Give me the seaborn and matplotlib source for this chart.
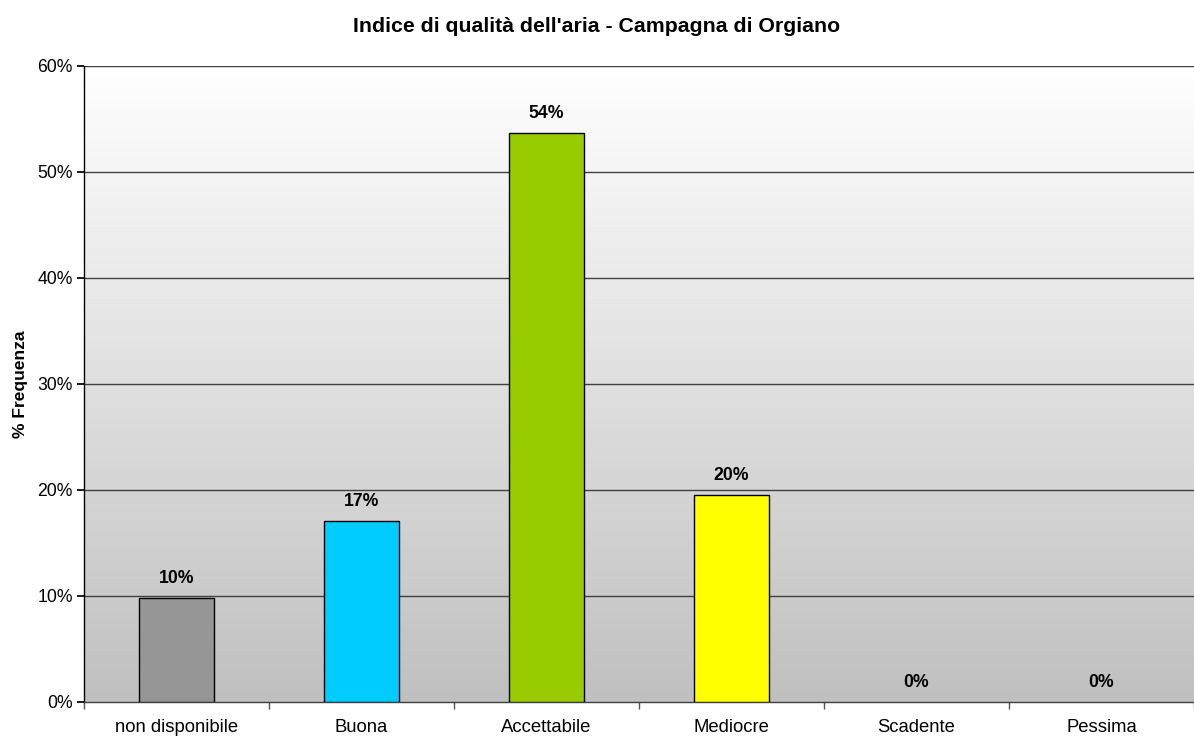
import numpy as np
import matplotlib
matplotlib.use("Agg")
import matplotlib.pyplot as plt
import seaborn as sns
from matplotlib.colors import LinearSegmentedColormap

categories = ["non disponibile", "Buona", "Accettabile", "Mediocre", "Scadente", "Pessima"]
values = [9.8, 17.1, 53.7, 19.5, 0.0, 0.0]
labels = ["10%", "17%", "54%", "20%", "0%", "0%"]
colors = ["#969696", "#00ccff", "#99cc00", "#ffff00", "#ff9900", "#ff0000"]
yticks = [0, 10, 20, 30, 40, 50, 60]

sns.set_theme(style="white")
plt.rcParams['font.family'] = ['Liberation Sans', 'DejaVu Sans']
plt.rcParams['text.color'] = 'black'
plt.rcParams['xtick.color'] = 'black'
plt.rcParams['ytick.color'] = 'black'
plt.rcParams['axes.labelcolor'] = 'black'

fig = plt.figure(figsize=(11.94, 7.38), dpi=100)
ax = fig.add_axes([84/1194, 1 - 702/738, 1 - 84/1194, (702 - 66)/738])

# gradient background: white at top, grey at bottom
grad = np.linspace(0.0, 1.0, 256).reshape(-1, 1)
cmap = LinearSegmentedColormap.from_list("bg", ["#ffffff", "#c0c0c0"])
ax.imshow(grad, cmap=cmap, aspect='auto', extent=[0, 1, 0, 1], origin='upper',
          transform=ax.transAxes, zorder=0, vmin=0, vmax=1)
ax.set_facecolor("white")

sns.barplot(x=categories, y=values, hue=categories, palette=colors,
            width=0.405, edgecolor="black", linewidth=1.0, legend=False,
            ax=ax, zorder=3, saturation=1)
for p in ax.patches:
    if p.get_height() == 0:
        p.set_visible(False)

ax.set_xlim(-0.5, 5.5)
ax.set_ylim(0, 60)
ax.set_yticks(yticks)
ax.set_yticklabels([f"{t}%" for t in yticks], fontsize=12.7)
ax.set_xticks(range(len(categories)))
ax.set_xticklabels(categories, fontsize=13.3)
ax.set_xticks(np.arange(-0.5, 6.0, 1.0), minor=True)
ax.tick_params(axis='x', which='major', length=0, pad=12)
ax.tick_params(axis='x', which='minor', length=5, color="#555555", direction='out', bottom=True)
ax.tick_params(axis='y', length=5, color="black", direction='out', left=True, pad=3)

for t in yticks[1:]:
    ax.axhline(t, color="#404040", linewidth=1.0, zorder=1)

for sp in ["top", "right"]:
    ax.spines[sp].set_visible(False)
ax.spines["left"].set_color("black")
ax.spines["left"].set_linewidth(1.0)
ax.spines["bottom"].set_color("#404040")
ax.spines["bottom"].set_linewidth(1.0)

for i, (v, lab) in enumerate(zip(values, labels)):
    ax.annotate(lab, xy=(i, v), xytext=(0, 8), textcoords="offset points",
                ha="center", va="bottom", fontsize=12.7, fontweight="bold", zorder=5)

ax.set_xlabel("")
ax.set_ylabel("% Frequenza", fontsize=12.5, fontweight="bold", labelpad=7)
fig.text(0.5, 1 - 27/738, "Indice di qualità dell'aria - Campagna di Orgiano",
         ha="center", va="center", fontsize=15.3, fontweight="bold")

fig.savefig("out.png", dpi=100, facecolor="white")
